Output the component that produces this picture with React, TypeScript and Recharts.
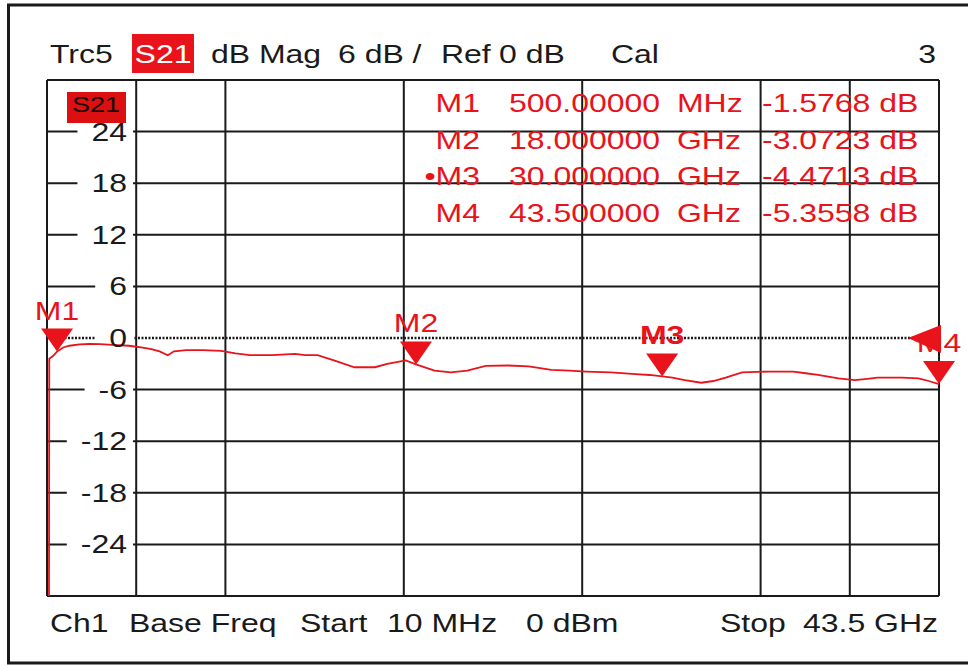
import React from 'react';
import {
    ComposedChart,
    Line,
    XAxis,
    YAxis,
    CartesianGrid,
    ReferenceLine,
    ReferenceDot,
} from 'recharts';

// trace S21, frequency in GHz, magnitude in dB
const freqGHz = [
    0.1, 0.12, 0.3, 0.5, 0.8, 1.1, 1.6, 2.1, 2.6, 3.2, 4.0, 4.6, 5.1, 5.5, 5.9, 6.2, 6.8, 7.6, 8.5,
    9.2, 9.9, 11.0, 12.1, 12.6, 13.2, 14.0, 15.0, 16.0, 16.6, 17.5, 18.0, 18.9, 19.7, 20.5, 21.4,
    22.5, 23.5, 24.6, 25.5, 26.3, 27.5, 28.7, 29.4, 30.0, 30.5, 31.1, 31.9, 32.5, 33.1, 33.9, 35.2,
    36.4, 37.0, 37.6, 38.6, 39.4, 40.0, 40.5, 41.7, 42.5, 43.0, 43.5,
];
const s21dB = [
    -45, -2.4, -2.1, -1.58, -1.1, -0.9, -0.75, -0.7, -0.72, -0.8, -0.9, -1.1, -1.3, -1.55, -2.0,
    -1.55, -1.4, -1.4, -1.5, -1.8, -2.0, -2.0, -1.85, -2.0, -2.0, -2.6, -3.4, -3.4, -3.0, -2.6,
    -3.07, -3.8, -4.0, -3.8, -3.25, -3.2, -3.3, -3.7, -3.8, -3.9, -4.0, -4.2, -4.3, -4.47, -4.6,
    -4.9, -5.2, -5.0, -4.6, -4.0, -3.9, -3.9, -4.1, -4.3, -4.7, -4.9, -4.75, -4.6, -4.6, -4.7,
    -5.0, -5.36,
];

const startGHz = 0.01;
const stopGHz = 43.5;
const xGrid = Array.from({ length: 11 }, (_, i) => startGHz + (i * (stopGHz - startGHz)) / 10);
const yLabelTicks = [24, 18, 12, 6, 0, -6, -12, -18, -24];
const yGridTicks = [30, 24, 18, 12, 6, -6, -12, -18, -24, -30];

const markerNames = ['M1', 'M2', 'M3', 'M4'];
const markerFreq = [0.5, 18, 30, 43.5];
const markerDB = [-1.5768, -3.0723, -4.4713, -5.3558];
const markerFreqText = ['500.00000', '18.000000', '30.000000', '43.500000'];
const markerUnitText = ['MHz', 'GHz', 'GHz', 'GHz'];
const markerValText = ['-1.5768 dB', '-3.0723 dB', '-4.4713 dB', '-5.3558 dB'];

const data = freqGHz.map((f, i) => ({ f, s21: s21dB[i] }));

const RED = '#e8131b';
const INK = '#1a1a1a';
const FONT = '"Liberation Sans", Arial, sans-serif';
const SX = 1.23;
const MARGIN = { top: 80, right: 29, bottom: 69, left: 47 };

const T = ({ x, y, anchor = 'start', color = INK, weight = 400, size = 26, children }: any) => (
    <text
        transform={`translate(${x} ${y}) scale(${SX} 1)`}
        textAnchor={anchor}
        fill={color}
        fontWeight={weight}
        fontSize={size}
        fontFamily={FONT}
    >
        {children}
    </text>
);

const textWidth = (s: string) =>
    s.split('').reduce((w, c) => w + (c === '-' ? 0.333 : 0.556), 0) * 26 * SX;

// tick label sits inside the plot, with a white gap cut in the grid line
const YTick = (props: any) => {
    const { y, payload } = props;
    const label = String(payload.value);
    const right = MARGIN.left + 80;
    const w = textWidth(label);
    return (
        <g>
            <rect x={right - w - 14} y={y - 3} width={w + 20} height={6} fill="#fff" />
            <T x={right} y={y + 9} anchor="end">
                {label}
            </T>
        </g>
    );
};

const markerShape = (name: string, bold: boolean) => (props: any) => {
    const { cx, cy } = props;
    return (
        <g>
            <polygon points={`${cx - 16},${cy - 23} ${cx + 16},${cy - 23} ${cx},${cy}`} fill={RED} />
            <T x={cx} y={cy - 32} anchor="middle" color={RED} weight={bold ? 700 : 400}>
                {name}
            </T>
        </g>
    );
};

const refArrow = (props: any) => {
    const { cx, cy } = props;
    return <polygon points={`${cx + 2},${cy - 13} ${cx + 2},${cy + 15} ${cx - 31},${cy}`} fill={RED} />;
};

export default function App() {
    return (
        <div style={{ position: 'absolute', left: 0, top: 0, width: 968, height: 665, background: '#fff', overflow: 'hidden' }}>
            <ComposedChart width={968} height={665} data={data} margin={MARGIN}>
                <XAxis
                    type="number"
                    dataKey="f"
                    domain={[startGHz, stopGHz]}
                    ticks={xGrid}
                    allowDataOverflow
                    hide
                />
                <YAxis yAxisId="g" domain={[-30, 30]} ticks={yGridTicks} allowDataOverflow hide />
                <YAxis
                    yAxisId="v"
                    domain={[-30, 30]}
                    ticks={yLabelTicks}
                    interval={0}
                    allowDataOverflow
                    mirror
                    axisLine={false}
                    tickLine={false}
                    tick={YTick}
                />
                <CartesianGrid yAxisId="g" stroke={INK} strokeWidth={2} />
                <ReferenceLine yAxisId="v" y={0} stroke={INK} strokeWidth={2.5} strokeDasharray="2 1.5" />
                <Line
                    yAxisId="v"
                    type="linear"
                    dataKey="s21"
                    stroke={RED}
                    strokeWidth={1.8}
                    dot={false}
                    isAnimationActive={false}
                />
                <ReferenceDot yAxisId="v" x={stopGHz} y={0} r={0} shape={refArrow} />
                {markerNames.map((m, i) => (
                    <ReferenceDot
                        key={m}
                        yAxisId="v"
                        x={markerFreq[i]}
                        y={markerDB[i]}
                        r={0}
                        shape={markerShape(m, m === 'M3')}
                    />
                ))}
            </ComposedChart>
            <svg
                width={968}
                height={665}
                style={{ position: 'absolute', left: 0, top: 0, pointerEvents: 'none' }}
            >
                <path d="M968,5 H8.5 V663 H968" fill="none" stroke={INK} strokeWidth={3} />

                {/* header */}
                <T x={50} y={63}>Trc5</T>
                <rect x={132} y={34} width={62} height={39} fill={RED} />
                <T x={163} y={63} anchor="middle" color="#fff">S21</T>
                <T x={211} y={63}>dB Mag</T>
                <T x={338} y={63}>6 dB /</T>
                <T x={441} y={63}>Ref</T>
                <T x={499} y={63}>0 dB</T>
                <T x={611} y={63}>Cal</T>
                <T x={936} y={63} anchor="end">3</T>

                {/* trace label */}
                <rect x={67} y={92} width={59} height={31} fill="#dc1010" />
                <T x={96} y={112} anchor="middle" color="#1a0505" size={22}>S21</T>

                {/* marker table */}
                {markerNames.map((m, i) => (
                    <g key={m}>
                        <T x={480} y={112 + i * 36.5} anchor="end" color={RED}>
                            {m === 'M3' ? '\u2022' + m : m}
                        </T>
                        <T x={509} y={112 + i * 36.5} color={RED}>{markerFreqText[i]}</T>
                        <T x={677} y={112 + i * 36.5} color={RED}>{markerUnitText[i]}</T>
                        <T x={762} y={112 + i * 36.5} color={RED}>{markerValText[i]}</T>
                    </g>
                ))}

                {/* footer */}
                <T x={50} y={632}>Ch1</T>
                <T x={129} y={632}>Base Freq</T>
                <T x={300} y={632}>Start</T>
                <T x={387} y={632}>10 MHz</T>
                <T x={526} y={632}>0 dBm</T>
                <T x={720} y={632}>Stop</T>
                <T x={938} y={632} anchor="end">43.5 GHz</T>
            </svg>
        </div>
    );
}
